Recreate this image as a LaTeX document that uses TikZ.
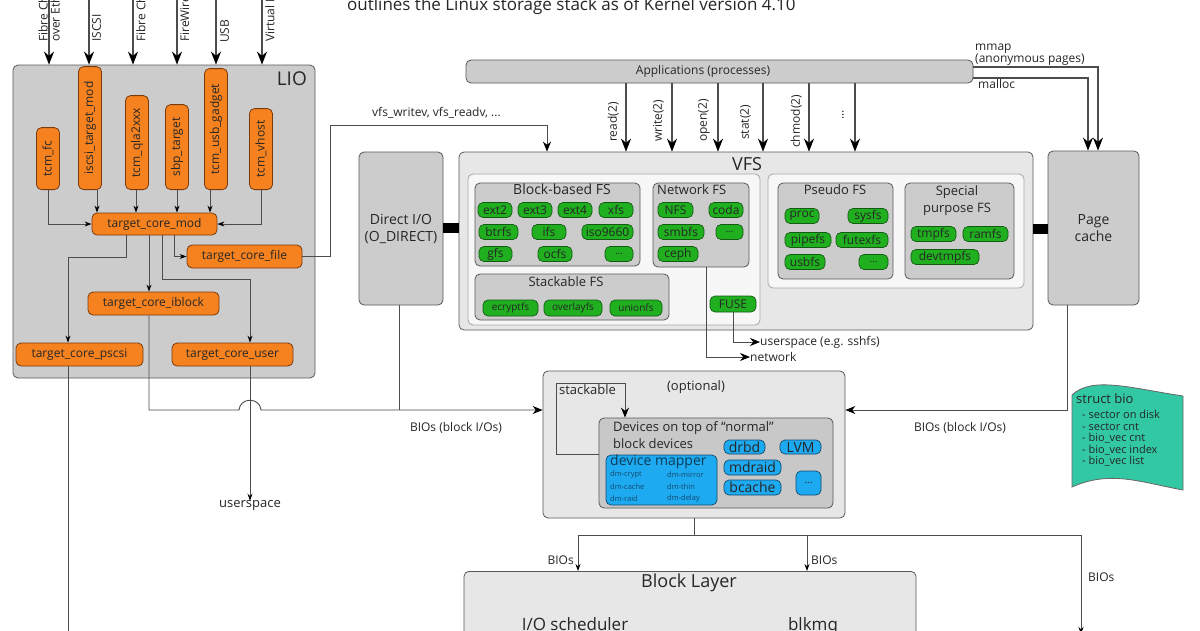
\documentclass[tikz,border=0pt]{standalone}
\usepackage{fontspec}
\setmainfont{Open Sans}
\usetikzlibrary{arrows.meta}
\definecolor{tcmorange}{HTML}{F5821F}
\definecolor{tcmborder}{HTML}{7A3B0C}
\definecolor{fsgreen}{HTML}{1FAF1F}
\definecolor{fsborder}{HTML}{135A13}
\definecolor{devblue}{HTML}{1EAAF0}
\definecolor{devborder}{HTML}{114A6E}
\definecolor{biogreen}{HTML}{33C8A4}
\definecolor{boxgray}{HTML}{CCCCCC}
\definecolor{vfsgray}{HTML}{E7E7E7}
\definecolor{devgray}{HTML}{C8C8C8}
\tikzset{
  panel/.style={draw=black!65, line width=0.8pt, rounded corners=5pt, inner sep=0pt},
  graypanel/.style={panel, fill=boxgray},
  whitepanel/.style={panel, draw=black!35, fill=white!97!black},
  tcmnode/.style={draw=tcmborder, fill=tcmorange, line width=0.8pt, rounded corners=5pt, minimum height=23},
  fsnode/.style={draw=fsborder, fill=fsgreen, line width=0.7pt, rounded corners=5pt, minimum height=15},
  fsmore/.style={fsnode, text=black!85, font=\fontsize{10}{12}\selectfont},
  devnode/.style={draw=devborder, fill=devblue, line width=0.7pt, rounded corners=5pt, minimum height=15, font=\fontsize{14}{16}\selectfont},
  conn/.style={draw=black!70, line width=0.9pt},
  arr/.style={conn, -{Stealth[black,length=7pt,width=5pt]}},
  midarr/.style={conn, -{Stealth[black,length=10pt,width=8pt]}},
  bigarr/.style={conn, line width=1.1pt, -{Stealth[black,length=13pt,width=10pt]}},
}
\begin{document}
\begin{tikzpicture}[x=1pt, y=-1pt, every node/.style={inner sep=0pt, text=black!85, font=\fontsize{12}{14}\selectfont}]
\useasboundingbox (0,0) rectangle (1200,630);
\clip (0,0) rectangle (1200,630);
\fill[white] (0,0) rectangle (1200,630);

\node[anchor=base west, font=\fontsize{17}{19}\selectfont] (title) at (347,10) {outlines the Linux storage stack as of Kernel version 4.10};

\node[graypanel, minimum width=302, minimum height=313] (lio) at (164,221.5) {};
\node[anchor=north east, font=\fontsize{19}{21}\selectfont] (liotitle) at (307,72) {LIO};
\node[tcmnode, rotate=90, anchor=west, minimum width=62] (tcmfc) at (48,190) {tcm\_fc};
\node[tcmnode, rotate=90, anchor=west, minimum width=123] (iscsi) at (90,190) {iscsi\_target\_mod};
\node[tcmnode, rotate=90, anchor=west, minimum width=94] (qla) at (137,190) {tcm\_qla2xxx};
\node[tcmnode, rotate=90, anchor=west, minimum width=85] (sbp) at (177,190) {sbp\_target};
\node[tcmnode, rotate=90, anchor=west, minimum width=121] (usbg) at (216,190) {tcm\_usb\_gadget};
\node[tcmnode, rotate=90, anchor=west, minimum width=81] (vhost) at (261,190) {tcm\_vhost};
\node[tcmnode, minimum width=125, minimum height=22] (tcmod) at (154.5,224) {target\_core\_mod};
\node[tcmnode, minimum width=115] (tcfile) at (244.5,256.5) {target\_core\_file};
\node[tcmnode, minimum width=131] (iblock) at (153.5,303.5) {target\_core\_iblock};
\node[tcmnode, minimum width=127] (pscsi) at (79.5,354.5) {target\_core\_pscsi};
\node[tcmnode, minimum width=121] (user) at (232.5,354.5) {target\_core\_user};

\node[rotate=90, anchor=west, align=left, font=\fontsize{12}{12}\selectfont] (fcoelbl) at (49,42) {Fibre Channel\\over Ethernet};
\node[rotate=90, anchor=north west] (iscsilbl) at (92,42) {ISCSI};
\node[rotate=90, anchor=north west] (fclbl) at (136,42) {Fibre Channel};
\node[rotate=90, anchor=north west] (fwlbl) at (180,42) {FireWire};
\node[rotate=90, anchor=north west] (usblbl) at (220,43) {USB};
\node[rotate=90, anchor=north west] (virtlbl) at (265,42) {Virtual Host};
\draw[bigarr] (49,-5) -- (lio.north -| 49,0);
\draw[bigarr] (89,-5) -- (lio.north -| 89,0);
\draw[bigarr] (133,-5) -- (lio.north -| 133,0);
\draw[bigarr] (177,-5) -- (lio.north -| 177,0);
\draw[bigarr] (216,-5) -- (lio.north -| 216,0);
\draw[bigarr] (262,-5) -- (lio.north -| 262,0);

\draw[arr] (tcmfc.west) |- (tcmod.west);
\draw[arr] (iscsi.west -| 97,0) -- (tcmod.north -| 97,0);
\draw[arr] (qla.west -| 136,0) -- (tcmod.north -| 136,0);
\draw[arr] (sbp.west) -- (tcmod.north -| 177,0);
\draw[arr] (usbg.west -| 210,0) -- (tcmod.north -| 210,0);
\draw[arr] (vhost.west) |- (tcmod.east);
\draw[arr] (tcmod.south -| 174,0) |- (tcfile.west);
\draw[arr] (tcmod.south -| 149,0) -- (iblock.north -| 149,0);
\draw[arr] (tcmod.south -| 126,0) -- (126,257) -| (pscsi.north -| 68,0);
\draw[arr] (tcmod.south -| 162,0) -- (162,279) -| (user.north -| 250,0);

\node[graypanel, minimum width=507, minimum height=23] (apps) at (719.5,71.5) {};
\node (appslbl) at (703,71.5) {Applications (processes)};
\node[graypanel, minimum width=84, minimum height=153, align=center, font=\fontsize{14}{17}\selectfont] (dio) at (401,228.5) {Direct I/O\\(O\_DIRECT)};
\node[panel, fill=vfsgray, minimum width=574, minimum height=178] (vfs) at (746,241) {};
\node[anchor=north, font=\fontsize{18}{20}\selectfont] (vfstitle) at (747,157) {VFS};
\node[graypanel, minimum width=91, minimum height=154, align=center, font=\fontsize{14}{17}\selectfont] (pcache) at (1093.5,228) {Page\\cache};
\draw[line width=10pt] (dio.east |- 0,228) -- (vfs.west |- 0,228);
\draw[line width=10pt] (vfs.east |- 0,229) -- (pcache.west |- 0,229);

\node[whitepanel, minimum width=292, minimum height=151] (leftpanel) at (614,249.5) {};
\node[whitepanel, minimum width=256, minimum height=114] (rightpanel) at (896,231) {};
\node[graypanel, minimum width=165, minimum height=83] (blockfs) at (557.5,224.5) {};
\node[anchor=north, font=\fontsize{14}{16}\selectfont] (blockfslbl) at (562,184) {Block-based FS};
\node[graypanel, minimum width=96, minimum height=84] (netfs) at (701,225) {};
\node[anchor=north west, font=\fontsize{13}{15}\selectfont] (netfslbl) at (657,184) {Network FS};
\node[graypanel, minimum width=194, minimum height=46] (stackfs) at (572,297) {};
\node[anchor=north, font=\fontsize{13}{15}\selectfont] (stackfslbl) at (566,276) {Stackable FS};
\node[graypanel, minimum width=115, minimum height=96] (pseudofs) at (835.5,231) {};
\node[anchor=north, font=\fontsize{13}{15}\selectfont] (pseudofslbl) at (835,184) {Pseudo FS};
\node[graypanel, minimum width=109, minimum height=96] (specialfs) at (959.5,231) {};
\node[anchor=north, align=center, font=\fontsize{13}{17}\selectfont] (specialfslbl) at (957,185) {Special\\purpose FS};

\node[fsnode, minimum width=34] (ext2) at (495,210) {ext2};
\node[fsnode, minimum width=34] (ext3) at (535,210) {ext3};
\node[fsnode, minimum width=34] (ext4) at (575,210) {ext4};
\node[fsnode, minimum width=34] (xfs) at (616,210) {xfs};
\node[fsnode, minimum width=39] (btrfs) at (498.5,232) {btrfs};
\node[fsnode, minimum width=34] (ifs) at (549,232) {ifs};
\node[fsnode, minimum width=51] (iso) at (607.5,232) {iso9660};
\node[fsnode, minimum width=33] (gfs) at (495.5,254) {gfs};
\node[fsnode, minimum width=34] (ocfs) at (555,254) {ocfs};
\node[fsmore, minimum width=28] (blockmore) at (619,254) {...};
\node[fsnode, minimum width=35] (nfs) at (675.5,210) {NFS};
\node[fsnode, minimum width=34] (coda) at (726,210) {coda};
\node[fsnode, minimum width=46] (smbfs) at (681,232) {smbfs};
\node[fsmore, minimum width=27] (netmore) at (729.5,232) {...};
\node[fsnode, minimum width=40] (ceph) at (678,254) {ceph};
\node[fsnode, minimum width=55, minimum height=16, font=\fontsize{10}{12}\selectfont] (ecryptfs) at (510.5,308) {ecryptfs};
\node[fsnode, minimum width=58, minimum height=16, font=\fontsize{10}{12}\selectfont] (overlayfs) at (573,308) {overlayfs};
\node[fsnode, minimum width=52, minimum height=16, font=\fontsize{10}{12}\selectfont] (unionfs) at (636,308) {unionfs};
\node[fsnode, minimum width=46, minimum height=16] (fuse) at (733,304) {FUSE};
\node[fsnode, minimum width=34] (proc) at (802,216) {proc};
\node[fsnode, minimum width=40] (sysfs) at (868,216) {sysfs};
\node[fsnode, minimum width=46] (pipefs) at (808,240) {pipefs};
\node[fsnode, minimum width=52] (futexfs) at (862,240) {futexfs};
\node[fsnode, minimum width=40] (usbfs) at (805,262) {usbfs};
\node[fsmore, minimum width=29] (pseudomore) at (873.5,262) {...};
\node[fsnode, minimum width=45] (tmpfs) at (933.5,234) {tmpfs};
\node[fsnode, minimum width=45] (ramfs) at (985.5,234) {ramfs};
\node[fsnode, minimum width=68] (devtmpfs) at (945,257) {devtmpfs};

\node[anchor=south west, font=\fontsize{12}{12}\selectfont] (vfsopslbl) at (372,119) {vfs\_writev, vfs\_readv, ...};
\draw[midarr] (tcfile.east) -- (330,256.5) -- (330,125) -| (vfs.north -| 547,0);

\node[rotate=90, anchor=south west] (readlbl) at (619,142) {read(2)};
\node[rotate=90, anchor=south west] (writelbl) at (664,142) {write(2)};
\node[rotate=90, anchor=south west] (openlbl) at (710,142) {open(2)};
\node[rotate=90, anchor=south west] (statlbl) at (751,140) {stat(2)};
\node[rotate=90, anchor=south west] (chmodlbl) at (802,148) {chmod(2)};
\node[rotate=90] (morelbl) at (843,115) {...};
\draw[bigarr] (apps.south -| 626,0) -- (vfs.north -| 626,0);
\draw[bigarr] (apps.south -| 672,0) -- (vfs.north -| 672,0);
\draw[bigarr] (apps.south -| 718,0) -- (vfs.north -| 718,0);
\draw[bigarr] (apps.south -| 763,0) -- (vfs.north -| 763,0);
\draw[bigarr] (apps.south -| 809,0) -- (vfs.north -| 809,0);
\draw[bigarr] (apps.south -| 855,0) -- (vfs.north -| 855,0);

\node[anchor=south west, align=left, font=\fontsize{12}{10}\selectfont] (mmaplbl) at (975,66) {mmap\\(anonymous pages)};
\node[anchor=north west] (malloclbl) at (978,79) {malloc};
\draw[bigarr] (apps.east |- 0,67) -| (pcache.north -| 1098,0);
\draw[bigarr] (apps.east |- 0,78) -| (pcache.north -| 1088,0);

\node[anchor=west] (netlbl) at (750,357) {network};
\node[anchor=west] (sshfslbl) at (760,342) {userspace (e.g. sshfs)};
\draw[midarr] (netfs.south -| 706,0) |- (netlbl.west);
\draw[midarr] (fuse.south) |- (sshfslbl.west);

\node[panel, fill=vfsgray, minimum width=302, minimum height=147] (optional) at (694,444.5) {};
\node[font=\fontsize{13}{15}\selectfont] (optlbl) at (696,387) {(optional)};
\node[panel, fill=devgray, minimum width=234, minimum height=90] (devices) at (716,463) {};
\node[anchor=north west, align=left, font=\fontsize{13}{17}\selectfont] (devlbl) at (613,421) {Devices on top of “normal”\\block devices};
\node[anchor=north west, font=\fontsize{13}{15}\selectfont] (stacklbl) at (559,384) {stackable};
\draw[midarr] (devices.west |- 0,454) -- (556,454) -- (556,383) -- (625,383) -- (devices.north -| 625,0);
\node[devnode, minimum width=111, minimum height=50] (dm) at (661.5,480) {};
\node[anchor=north west, font=\fontsize{14}{16}\selectfont, text=devborder!80!black] (dmlbl) at (610,455) {device mapper};
\node[anchor=west, font=\fontsize{7.5}{9}\selectfont, text=devborder] (dmcrypt) at (610,475) {dm-crypt};
\node[anchor=west, font=\fontsize{7.5}{9}\selectfont, text=devborder] (dmmirror) at (667,475) {dm-mirror};
\node[anchor=west, font=\fontsize{7.5}{9}\selectfont, text=devborder] (dmcache) at (610,487) {dm-cache};
\node[anchor=west, font=\fontsize{7.5}{9}\selectfont, text=devborder] (dmthin) at (667,487) {dm-thin};
\node[anchor=west, font=\fontsize{7.5}{9}\selectfont, text=devborder] (dmraid) at (610,499) {dm-raid};
\node[anchor=west, font=\fontsize{7.5}{9}\selectfont, text=devborder] (dmdelay) at (667,499) {dm-delay};
\node[devnode, minimum width=41, minimum height=14] (drbd) at (744.5,447) {drbd};
\node[devnode, minimum width=41, minimum height=14] (lvm) at (800.5,447) {LVM};
\node[devnode, minimum width=57] (mdraid) at (752.5,467.5) {mdraid};
\node[devnode, minimum width=57] (bcache) at (752.5,487.5) {bcache};
\node[devnode, minimum width=25, minimum height=24, font=\fontsize{10}{12}\selectfont] (devmore) at (808.5,483) {...};

\node (bioleftlbl) at (456,428) {BIOs (block I/Os)};
\node (biorightlbl) at (960,428) {BIOs (block I/Os)};
\node[font=\fontsize{13}{15}\selectfont] (uspace) at (250,506) {userspace};
\draw[conn] (pscsi.south -| 68,0) -- (68,640);
\draw[conn] (dio.south -| 399,0) -- (399,410);
\draw[arr] (user.south -| 250,0) -- (uspace.north);
\draw[midarr] (iblock.south -| 149,0) -- (149,410) -- (239,410) .. controls (240,397) and (260,397) .. (261,410) -- (optional.west |- 0,410);
\draw[midarr] (pcache.south -| 1067,0) -- (1067,410) -- (optional.east |- 0,410);

\draw[fill=biogreen, draw=black!60, line width=0.8pt] (1072,395) .. controls (1092,376) and (1130,388) .. (1183,396) -- (1183,490) .. controls (1140,482) and (1110,470) .. (1072,487) -- cycle;
\node[anchor=north west, font=\fontsize{13}{15}\selectfont] (biotitle) at (1076,393) {struct bio};
\node[anchor=north west, align=left, font=\fontsize{11}{11.5}\selectfont] (biolist) at (1082,410) {- sector on disk\\- sector cnt\\- bio\_vec cnt\\- bio\_vec index\\- bio\_vec list};

\node[panel, fill=vfsgray, minimum width=452, minimum height=109, anchor=north] (blayer) at (690,571) {};
\node[anchor=north, font=\fontsize{18}{20}\selectfont] (bltitle) at (689,574) {Block Layer};
\node[anchor=north, font=\fontsize{17}{19}\selectfont] (ioschedlbl) at (575,617) {I/O scheduler};
\node[anchor=north, font=\fontsize{17}{19}\selectfont] (blkmqlbl) at (813,617) {blkmq};
\draw[conn] (optional.south) -- (optional.south |- 0,535);
\draw[arr] (optional.south |- 0,535) -| (blayer.north -| 578,0);
\draw[arr] (optional.south |- 0,535) -| (1081,634);
\draw[arr] (807,535) -- (blayer.north -| 807,0);
\node[anchor=east] (bios1) at (574,560) {BIOs};
\node[anchor=west] (bios2) at (811,560) {BIOs};
\node[anchor=west] (bios3) at (1088,577) {BIOs};
\end{tikzpicture}
\end{document}
